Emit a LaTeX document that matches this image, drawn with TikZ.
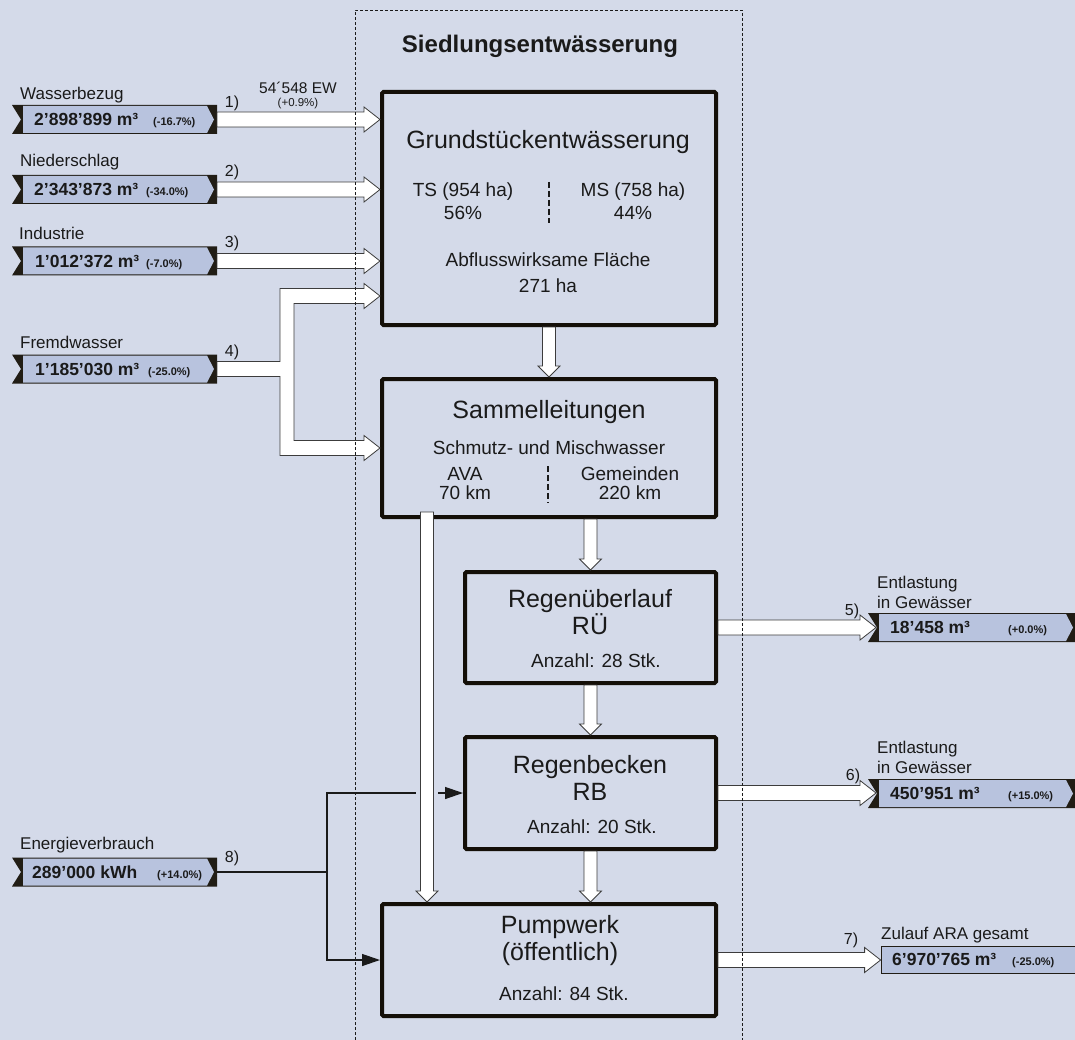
\documentclass[tikz,border=0pt]{standalone}
\usepackage{fontspec}
\setmainfont{Liberation Sans}
\usetikzlibrary{calc,arrows.meta}

\definecolor{bggrey}{HTML}{D4DAE9}
\definecolor{barblue}{HTML}{B8C3DE}
\definecolor{bardark}{HTML}{211D15}
\definecolor{boxblack}{HTML}{140F08}
\definecolor{flowline}{HTML}{3C3C3C}
\definecolor{inkblack}{HTML}{1A1A1A}

\newcommand{\sizetitle}{\fontsize{24}{27}\selectfont}
\newcommand{\sizestage}{\fontsize{25}{27}\selectfont}
\newcommand{\sizesub}{\fontsize{19}{23}\selectfont}
\newcommand{\sizelabel}{\fontsize{17}{20}\selectfont}
\newcommand{\sizevalue}{\fontsize{17.5}{20}\selectfont\bfseries}
\newcommand{\sizepct}{\fontsize{11}{13}\selectfont\bfseries}

\tikzset{
  bandbox/.style={inner sep=0pt, outer sep=0pt, minimum height=29pt},
  stage/.style={draw=boxblack, line width=4pt, rounded corners=1.5pt, inner sep=0pt},
  flow/.style={fill=white, draw=flowline, line width=0.8pt, line join=miter},
  power/.style={draw=inkblack, line width=1.3pt},
  divider/.style={draw=inkblack, line width=1.1pt, dash pattern=on 6pt off 3pt},
  frame/.style={draw=inkblack, line width=0.8pt, dash pattern=on 3pt off 2pt},
  value/.style={font=\sizevalue, anchor=base west, inner sep=0pt},
  pct/.style={font=\sizepct, anchor=base west, inner sep=0pt},
  caption/.style={font=\sizelabel, anchor=west, inner sep=0pt, align=left},
  tag/.style={font=\fontsize{16}{18}\selectfont, inner sep=0pt},
}

% Band: Kerbe links, Spitze rechts
\newcommand{\ribbon}[3]{%
  \node[bandbox, minimum width=#3] (#1) at (#2) {};
  \fill[bardark] (#1.north west) -- (#1.north east) -- (#1.south east)
    -- (#1.south west) -- ([xshift=9pt]#1.west) -- cycle;
  \fill[barblue] ([xshift=11pt,yshift=-1pt]#1.north west)
    -- ([xshift=-10pt,yshift=-1pt]#1.north east) -- ([xshift=-3pt]#1.east)
    -- ([xshift=-10pt,yshift=1pt]#1.south east)
    -- ([xshift=11pt,yshift=1pt]#1.south west) -- cycle;
}

% Blockpfeil waagrecht / senkrecht
\newcommand{\harrow}[2]{%
  \draw[flow] let \p1=(#1), \p2=(#2) in
    (\x1,\y1+7.5pt) -- (\x2-16pt,\y1+7.5pt) -- (\x2-16pt,\y1+12.5pt) -- (\x2,\y1)
    -- (\x2-16pt,\y1-12.5pt) -- (\x2-16pt,\y1-7.5pt) -- (\x1,\y1-7.5pt) -- cycle;
}
\newcommand{\varrow}[2]{%
  \draw[flow] let \p1=(#1), \p2=(#2) in
    (\x1-6.5pt,\y1) -- (\x1-6.5pt,\y2+11pt) -- (\x1-11pt,\y2+11pt) -- (\x1,\y2)
    -- (\x1+11pt,\y2+11pt) -- (\x1+6.5pt,\y2+11pt) -- (\x1+6.5pt,\y1) -- cycle;
}

\begin{document}
\begin{tikzpicture}[x=1pt, y=-1pt, text=inkblack]
  \useasboundingbox (0,0) rectangle (1075,1040);
  \fill[bggrey] (0,0) rectangle (1075,1040);

  % Zufluesse links
  \ribbon{wasser}{114.5,119.5}{205pt}
  \ribbon{nieder}{114.5,189.5}{205pt}
  \ribbon{indu}{114.5,261}{205pt}
  \ribbon{fremd}{114.5,369}{205pt}
  \ribbon{energie}{114.5,872}{205pt}
  \node[value] (wasser-v) at (34,125.6) {2’898’899 m³};
  \node[pct] (wasser-p) at (153,125.6) {(-16.7\%)};
  \node[value] (nieder-v) at (34,195.6) {2’343’873 m³};
  \node[pct] (nieder-p) at (146,195.6) {(-34.0\%)};
  \node[value] (indu-v) at (35,267.1) {1’012’372 m³};
  \node[pct] (indu-p) at (146,267.1) {(-7.0\%)};
  \node[value] (fremd-v) at (35,375.1) {1’185’030 m³};
  \node[pct] (fremd-p) at (148,375.1) {(-25.0\%)};
  \node[value] (energie-v) at (32,878.1) {289’000 kWh};
  \node[pct] (energie-p) at (157,878.1) {(+14.0\%)};
  \node[caption] (wasser-l) at (20,95) {Wasserbezug};
  \node[caption] (nieder-l) at (20,162) {Niederschlag};
  \node[caption] (indu-l) at (19,233) {Industrie};
  \node[caption] (fremd-l) at (20,342) {Fremdwasser};
  \node[caption] (energie-l) at (20,845) {Energieverbrauch};

  % Abfluesse rechts
  \ribbon{rubar}{972,627.5}{208pt}
  \ribbon{rbbar}{972,793.5}{208pt}
  \node[fill=barblue, draw=bardark, line width=0.8pt, minimum width=196pt,
        minimum height=27pt, inner sep=0pt] (ara) at (979,959.5) {};
  \node[value] (rubar-v) at (890,633.6) {18’458 m³};
  \node[pct] (rubar-p) at (1008,633.6) {(+0.0\%)};
  \node[value] (rbbar-v) at (890,799.6) {450’951 m³};
  \node[pct] (rbbar-p) at (1008,799.6) {(+15.0\%)};
  \node[value] (ara-v) at (892,965.6) {6’970’765 m³};
  \node[pct] (ara-p) at (1012,965.6) {(-25.0\%)};
  \node[caption] (rubar-l) at (877,592) {Entlastung\\in Gewässer};
  \node[caption] (rbbar-l) at (877,757.5) {Entlastung\\in Gewässer};
  \node[caption] (ara-l) at (881,935) {Zulauf ARA gesamt};

  % Bauwerke
  \node[stage, minimum width=334pt, minimum height=233pt] (grund) at (549,208.5) {};
  \node[stage, minimum width=334pt, minimum height=138pt] (sammel) at (549,448) {};
  \node[stage, minimum width=251pt, minimum height=111pt] (ru) at (590.5,627.5) {};
  \node[stage, minimum width=251pt, minimum height=112pt] (rb) at (590.5,793) {};
  \node[stage, minimum width=334pt, minimum height=112pt] (pump) at (549,960) {};

  \node[font=\sizestage] (grund-t) at (548,142) {Grundstückentwässerung};
  \node[font=\sizesub, align=center] (grund-ts) at (463,201.5) {TS (954 ha)\\56\%};
  \node[font=\sizesub, align=center] (grund-ms) at (633,201.5) {MS (758 ha)\\44\%};
  \draw[divider] (549,182) -- (549,223);
  \node[font=\sizesub, align=center] (grund-af) at (548,273) {Abflusswirksame Fläche\\[3pt]271 ha};

  \node[font=\sizestage] (sammel-t) at (549,412) {Sammelleitungen};
  \node[font=\sizesub] (sammel-s) at (549,448) {Schmutz- und Mischwasser};
  \node[font=\sizesub, align=center] (sammel-ava) at (465,483.5) {AVA\\[-4pt]70 km};
  \node[font=\sizesub, align=center] (sammel-gem) at (630,483.5) {Gemeinden\\[-4pt]220 km};
  \draw[divider] (548,466) -- (548,503);

  \node[font=\sizestage, align=center] (ru-t) at (590,612.5) {Regenüberlauf\\RÜ};
  \node[font=\sizesub] (ru-n) at (596,661) {Anzahl: 28 Stk.};
  \node[font=\sizestage, align=center] (rb-t) at (590,778) {Regenbecken\\RB};
  \node[font=\sizesub] (rb-n) at (592,827) {Anzahl: 20 Stk.};
  \node[font=\sizestage, align=center] (pump-t) at (560,941) {Pumpwerk\\(öffentlich)};
  \node[font=\sizesub] (pump-n) at (564,994) {Anzahl: 84 Stk.};

  % Wasserstroeme
  \harrow{wasser.east}{wasser.east -| grund.west}
  \harrow{nieder.east}{nieder.east -| grund.west}
  \harrow{indu.east}{indu.east -| grund.west}
  \coordinate (fwtop) at (380,296);
  \coordinate (trunk) at (287,369);
  \draw[flow] let \p1=(fremd.east), \p2=(fwtop), \p3=(sammel.west), \p4=(trunk) in
    (\x1,\y1+7.5pt) -- (\x4-7pt,\y1+7.5pt) -- (\x4-7pt,\y2+7.5pt)
    -- (\x2-16pt,\y2+7.5pt) -- (\x2-16pt,\y2+12.5pt) -- (\x2,\y2)
    -- (\x2-16pt,\y2-12.5pt) -- (\x2-16pt,\y2-7.5pt) -- (\x4+7pt,\y2-7.5pt)
    -- (\x4+7pt,\y3+7.5pt) -- (\x3-16pt,\y3+7.5pt) -- (\x3-16pt,\y3+12.5pt)
    -- (\x3,\y3) -- (\x3-16pt,\y3-12.5pt) -- (\x3-16pt,\y3-7.5pt)
    -- (\x4-7pt,\y3-7.5pt) -- (\x4-7pt,\y1-7.5pt) -- (\x1,\y1-7.5pt) -- cycle;

  \varrow{grund.south}{sammel.north}
  \varrow{ru.north |- sammel.south}{ru.north}
  \varrow{ru.south}{rb.north}
  \varrow{rb.south}{rb.south |- pump.north}
  \coordinate (bypass) at (427,512);
  \varrow{bypass}{bypass |- pump.north}

  \harrow{ru.east}{[xshift=8pt]rubar.west}
  \harrow{rb.east}{[xshift=8pt]rbbar.west}
  \harrow{pump.east}{ara.west}

  % Energie
  \coordinate (split) at (327,872);
  \coordinate (hopL) at (416,793);
  \coordinate (hopR) at (438,793);
  \draw[power] (energie.east) -- (split) |- (hopL);
  \draw[power, -{Triangle[length=18pt,width=12pt]}] (hopR) -- (rb.west);
  \draw[power, -{Triangle[length=18pt,width=12pt]}] (split) |- (pump.west);

  % Nummern
  \node[tag] (n1) at (232,103) {1)};
  \node[tag] (n2) at (232,172) {2)};
  \node[tag] (n3) at (232,243) {3)};
  \node[tag] (n4) at (232,352) {4)};
  \node[tag] (n5) at (852,611) {5)};
  \node[tag] (n6) at (853,776) {6)};
  \node[tag] (n7) at (851,940) {7)};
  \node[tag] (n8) at (232,858) {8)};
  \node[font=\fontsize{15.5}{17}\selectfont] (ew) at (298,88) {54´548 EW};
  \node[font=\fontsize{11.5}{13}\selectfont] (ew-p) at (298,104) {(+0.9\%)};

  % Systemgrenze
  \draw[frame] (355,1045) -- (355,10) -- (742,10) -- (742,1045);
  \node[font=\sizetitle\bfseries] (title) at (540,46) {Siedlungsentwässerung};
\end{tikzpicture}
\end{document}
